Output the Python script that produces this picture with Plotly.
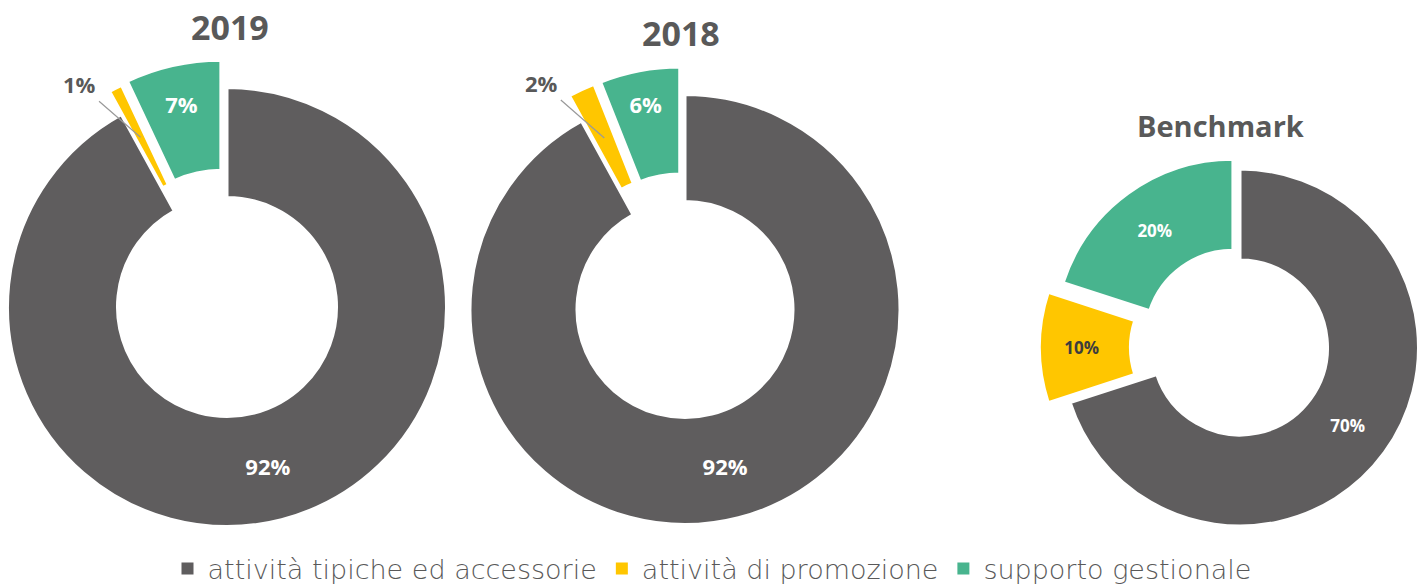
import math
import plotly.graph_objects as go

# ---------------- data ----------------
categories = ["attività tipiche ed accessorie", "attività di promozione", "supporto gestionale"]
values_2019 = [92, 1, 7]
values_2018 = [92, 2, 6]
values_benchmark = [70, 10, 20]
chart_titles = ["2019", "2018", "Benchmark"]

# ---------------- styles / geometry ----------------
slice_colors = ["#5f5d5e", "#ffc600", "#48b48e"]
TRANSPARENT = "rgba(0,0,0,0)"
TEXT_GREY = "#595959"
W, H = 1424, 586
LINE_W = 3

charts = [
    dict(title=chart_titles[0], values=values_2019, cx=227, cy=307, r=218, hole=111,
         pull=[0, 26, 28], textpos=["inside", "callout", "inside"],
         textcolor=["#ffffff", TEXT_GREY, "#ffffff"], fontsize=22,
         callout_offset=(-61, -53),
         title_xy=(230, 27), title_size=34),
    dict(title=chart_titles[1], values=values_2018, cx=685, cy=309.5, r=213.5, hole=109.5,
         pull=[0, 28, 28], textpos=["inside", "callout", "inside"],
         textcolor=["#ffffff", TEXT_GREY, "#ffffff"], fontsize=22,
         callout_offset=(-63, -55),
         title_xy=(681, 33), title_size=34),
    dict(title=chart_titles[2], values=values_benchmark, cx=1240, cy=347.5, r=177, hole=89,
         pull=[0, 22, 12], textpos=["inside", "inside", "inside"],
         textcolor=["#ffffff", "#3d3d3d", "#ffffff"], fontsize=17,
         callout_offset=(0, 0),
         title_xy=(1220, 126), title_size=29),
]


def slice_geometry(cx, cy, r, hole, d, mid):
    """Domain for a single (possibly exploded) slice drawn in its own pie trace."""
    s, c = math.sin(mid), math.cos(mid)
    r_dom = r + LINE_W / 2
    R_out = r_dom + d
    R_in = hole - LINE_W / 2 + d
    if d > 0:
        bounds = [r_dom]
        if 1 + s > 1e-9:
            bounds.append((cx + R_out * s) / (1 + s))
        if 1 - s > 1e-9:
            bounds.append((W - cx - R_out * s) / (1 - s))
        if 1 - c > 1e-9:
            bounds.append((cy - R_out * c) / (1 - c))
        if 1 + c > 1e-9:
            bounds.append((H - cy + R_out * c) / (1 + c))
        r_dom = min(bounds) - 0.05
        d_eff = R_out - r_dom
    else:
        d_eff = 0
    x = cx + d_eff * s
    y = cy - d_eff * c
    hole_frac = (R_in - d_eff) / r_dom
    dom_x = [max(0.0, (x - r_dom) / W), min(1.0, (x + r_dom) / W)]
    dom_y = [max(0.0, 1 - (y + r_dom) / H), min(1.0, 1 - (y - r_dom) / H)]
    r_mid = r_dom * (1 + hole_frac) / 2
    mid_pt = (x + r_mid * s, y - r_mid * c)
    return dom_x, dom_y, hole_frac, mid_pt


fig = go.Figure()

# legend-only trace (invisibly small) so the legend shows the full colours
fig.add_trace(go.Pie(
    labels=categories, values=[1, 1, 1], sort=False,
    marker=dict(colors=slice_colors, line=dict(width=0)),
    textinfo="none", hoverinfo="skip",
    domain=dict(x=[0, 0.0002], y=[0, 0.0002]),
    showlegend=True,
))

for ch in charts:
    vals = ch["values"]
    total = sum(vals)
    n = len(vals)
    for i in range(n):
        start = sum(vals[:i]) / total
        mid = 2 * math.pi * (start + vals[i] / total / 2)
        dom_x, dom_y, hole_frac, mid_pt = slice_geometry(
            ch["cx"], ch["cy"], ch["r"], ch["hole"], ch["pull"][i], mid)
        colors = [slice_colors[j] if j == i else TRANSPARENT for j in range(n)]
        widths = [LINE_W if j == i else 0 for j in range(n)]
        texts = [f"{vals[j]}%" if j == i else "" for j in range(n)]
        tpos = [ch["textpos"][j] if (j == i and ch["textpos"][j] != "callout") else "none"
                for j in range(n)]
        fig.add_trace(go.Pie(
            labels=categories, values=vals, sort=False,
            direction="clockwise", rotation=0,
            hole=hole_frac,
            marker=dict(colors=colors, line=dict(color="#ffffff", width=widths)),
            text=texts, textinfo="text", textposition=tpos,
            insidetextorientation="horizontal",
            textfont=dict(family="Open Sans", size=ch["fontsize"], color=ch["textcolor"], weight="bold"),
            domain=dict(x=dom_x, y=dom_y),
            showlegend=False,
            hoverinfo="label+value",
        ))
        if ch["textpos"][i] == "callout":
            # small slice: label outside with a thin leader line into the slice
            fig.add_annotation(
                text=f"{vals[i]}%", xref="paper", yref="paper",
                x=mid_pt[0] / W, y=1 - mid_pt[1] / H,
                ax=ch["callout_offset"][0], ay=ch["callout_offset"][1],
                showarrow=True, arrowhead=0, arrowwidth=1.2, arrowcolor="#9a9a9a",
                standoff=0, startstandoff=2,
                font=dict(family="Open Sans", size=ch["fontsize"], color=ch["textcolor"][i], weight="bold"),
            )
    fig.add_annotation(
        text=ch["title"], xref="paper", yref="paper",
        x=ch["title_xy"][0] / W, y=1 - ch["title_xy"][1] / H,
        xanchor="center", yanchor="middle", showarrow=False,
        font=dict(family="Open Sans", size=ch["title_size"], color=TEXT_GREY, weight="bold"),
    )

fig.update_layout(
    width=W, height=H,
    margin=dict(l=0, r=0, t=0, b=0, autoexpand=False),
    paper_bgcolor="#ffffff",
    plot_bgcolor="#ffffff",
    legend=dict(
        orientation="h", x=0.5, xanchor="center", y=1 - 569 / H, yanchor="middle",
        font=dict(family="DejaVu Sans", size=27, color=TEXT_GREY, weight=300),
        bgcolor="rgba(0,0,0,0)", itemwidth=30,
    ),
)

fig.write_html(
    "out.html",
    config={"displayModeBar": False},
    post_script="document.body.style.margin='0';document.body.style.overflow='hidden';",
)
